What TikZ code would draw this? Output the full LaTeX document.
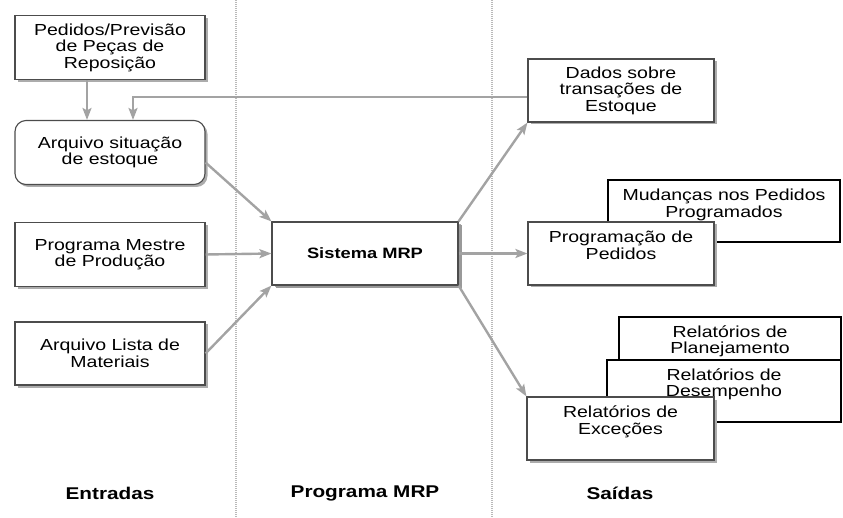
\documentclass[tikz,border=0pt]{standalone}
\usepackage{fontspec}
\setmainfont{Liberation Sans}[FakeStretch=1.22]
\usepackage{tikz}
\usetikzlibrary{arrows.meta, positioning, calc, shadows}

\begin{document}
\begin{tikzpicture}[x=1pt, y=-1pt,
  box/.style={draw=gray!60!black, fill=white, line width=1.1pt, align=center,
    minimum width=190pt, minimum height=64pt, inner sep=2pt,
    font=\fontsize{16}{16.5}\selectfont,
    drop shadow={shadow xshift=2.5pt, shadow yshift=-2.5pt, fill=gray!65, opacity=1}},
  backbox/.style={draw=black, fill=white, line width=2pt, align=center,
    minimum height=62pt, inner sep=2pt, font=\fontsize{16}{16.5}\selectfont},
  flow/.style={draw=gray!72, line width=2.4pt, -{Stealth[length=12pt, width=9pt, inset=2.5pt]}},
  divider/.style={gray!55, line width=1.6pt, dash pattern=on 1pt off 1pt},
  colhead/.style={font=\fontsize{17}{18}\selectfont\bfseries}]
\useasboundingbox (0,0) rectangle (843,518);

% column dividers
\draw[divider] (236,0) -- (236,518);
\draw[divider] (492,0) -- (492,518);

% Entradas
\node[box] (ped) at (110,47.5) {Pedidos/Previsão\\de Peças de\\Reposição};
\node[box, rounded corners=11pt] (arq) at (110,152.5) {Arquivo situação\\de estoque};
\node[box] (pms) at (110,254.5) {Programa Mestre\\de Produção};
\node[box, minimum height=63pt] (lista) at (110,353.5) {Arquivo Lista de\\Materiais};

% Programa MRP
\node[box, minimum width=186pt, minimum height=63pt, font=\fontsize{15}{16}\selectfont\bfseries,
  drop shadow={shadow xshift=3.5pt, shadow yshift=-3.5pt, fill=gray!80, opacity=1}] (sys) at (365,253.5) {Sistema MRP};

% Saidas (back boxes first)
\node[backbox, minimum width=232pt] (mud) at (724,211.5) {Mudanças nos Pedidos\\Programados\\\mbox{}};
\node[backbox, minimum width=222pt] (plan) at (730,348) {Relatórios de\\Planejamento\\\mbox{}};
\node[backbox, minimum width=234pt] (des) at (724,391) {Relatórios de\\Desempenho\\\mbox{}};

\node[box, minimum width=186pt, minimum height=63pt] (dados) at (621,90.5) {Dados sobre\\transações de\\Estoque};
\node[box, minimum width=186pt, minimum height=63pt] (prog) at (621,253.5) {Programação de\\Pedidos\\\mbox{}};
\node[box, minimum width=187pt, minimum height=63pt] (exc) at (620.5,428.5) {Relatórios de\\Exceções\\\mbox{}};

% column headings
\node[colhead] (hin) at (110,493) {Entradas};
\node[colhead] (hmrp) at (365,493) {Programa MRP};
\node[colhead] (hout) at (620,493) {Saídas};

% inputs
\draw[flow] ([xshift=-23pt]ped.south) -- ([xshift=-23pt]arq.north);
\coordinate (ret) at (133,97);
\draw[flow] (dados.west |- ret) -- (ret) -- (arq.north -| ret);
\draw[flow] ([yshift=-10pt]arq.east) -- (sys.north west);
\draw[flow] (pms.east) -- (sys.west);
\draw[flow] (lista.east) -- (sys.south west);

% outputs
\draw[flow] (sys.north east) -- (dados.south west);
\draw[flow] (sys.east) -- (prog.west);
\draw[flow] (sys.south east) -- (exc.north west);
\end{tikzpicture}
\end{document}
